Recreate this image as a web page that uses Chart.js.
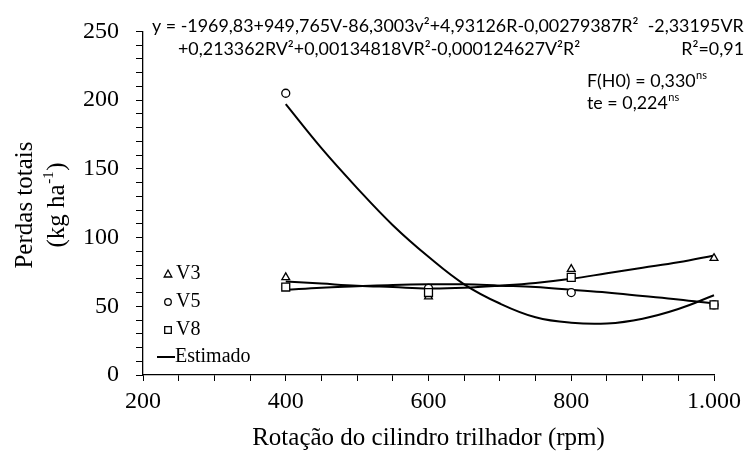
<!DOCTYPE html>
<html><head><meta charset="utf-8">
<script src="https://cdn.jsdelivr.net/npm/chart.js@4.4.0/dist/chart.umd.min.js"></script>
<style>html,body{margin:0;padding:0;background:#fff}#wrap{width:747px;height:453px;position:relative}</style>
</head><body><div id="wrap"><canvas id="c" width="747" height="453"></canvas></div>
<script>
// Observed data (kg/ha) at each rotation (rpm)
const rpm = [400, 600, 800, 1000];
const v3 = [71, 57, 77, 85];
const v5 = [205, 63, 60, 51];
const v8 = [64, 60, 71, 51];

// Estimated curves
const curveRpm = [400, 450, 500, 550, 600, 650, 700, 750, 800, 850, 900, 950, 1000];
const estV3 = [68, 66.5, 65, 64, 63, 63.5, 65, 67, 70, 74, 78, 82, 87];
const estV5 = [197, 165, 136, 109, 86, 66, 52, 42, 38, 37.5, 41, 48, 58];
const estV8 = [62, 63.5, 64.5, 65.5, 66, 66, 65, 64, 62, 60, 57.5, 55, 52];

const xLabels = {200: '200', 400: '400', 600: '600', 800: '800', 1000: '1.000'};
const yLabelValues = [0, 50, 100, 150, 200, 250];

const eqLine1 = 'y = -1969,83+949,765V-86,3003v²+4,93126R-0,00279387R²  -2,33195VR';
const eqLine2 = '+0,213362RV²+0,00134818VR²-0,000124627V²R²';
const eqR2 = 'R²=0,91';
const legendNames = ['V3', 'V5', 'V8', 'Estimado'];

const SERIF = '"Liberation Serif", "Times New Roman", serif';
const SANS = 'Lato, "Open Sans", sans-serif';

function pts(xs, ys) { return xs.map((x, i) => ({x: x, y: ys[i]})); }

function lineDs(label, ys) {
  return {type: 'line', label: label, data: pts(curveRpm, ys), borderColor: '#000', borderWidth: 2,
    pointRadius: 0, tension: 0.4, fill: false, order: 2, clip: false};
}
function markDs(label, ys, style, r) {
  return {type: 'scatter', label: label, data: pts(rpm, ys), pointStyle: style, pointRadius: r,
    borderColor: '#000', backgroundColor: '#fff', borderWidth: 1.3, order: 1, clip: false};
}

function drawSup(ctx, x, y, base, sup, size, family) {
  ctx.font = size + 'px ' + family;
  ctx.textBaseline = 'middle';
  ctx.textAlign = 'left';
  ctx.fillText(base, x, y);
  const w = ctx.measureText(base).width;
  ctx.font = Math.round(size * 0.62) + 'px ' + family;
  ctx.fillText(sup, x + w + 0.5, y - size * 0.3);
}

const annot = {
  id: 'annot',
  afterDraw(chart) {
    const ctx = chart.ctx;
    ctx.save();
    ctx.fillStyle = '#000';
    // equation
    ctx.font = '16px ' + SANS;
    const w1 = ctx.measureText(eqLine1).width;
    const eqSize = 16 * (744 - 152) / w1;
    ctx.font = eqSize.toFixed(2) + 'px ' + SANS;
    ctx.textBaseline = 'middle';
    ctx.textAlign = 'left';
    ctx.fillText(eqLine1, 152, 26);
    ctx.fillText(eqLine2, 178, 49);
    ctx.textAlign = 'right';
    ctx.fillText(eqR2, 744, 49);
    drawSup(ctx, 587, 81, 'F(H0) = 0,330', 'ns', eqSize, SANS);
    drawSup(ctx, 587, 103, 'te = 0,224', 'ns', eqSize, SANS);

    // legend
    const lx = 168, ly = [274, 302, 330];
    ctx.strokeStyle = '#000';
    ctx.lineWidth = 1.3;
    ctx.fillStyle = '#fff';
    ctx.beginPath();
    ctx.moveTo(lx, ly[0] - 4); ctx.lineTo(lx + 3.8, ly[0] + 3); ctx.lineTo(lx - 3.8, ly[0] + 3); ctx.closePath();
    ctx.fill(); ctx.stroke();
    ctx.beginPath(); ctx.arc(lx, ly[1], 3.3, 0, Math.PI * 2); ctx.fill(); ctx.stroke();
    ctx.beginPath(); ctx.rect(lx - 3.3, ly[2] - 3.3, 6.6, 6.6); ctx.fill(); ctx.stroke();
    ctx.lineWidth = 2;
    ctx.beginPath(); ctx.moveTo(157, 357); ctx.lineTo(175, 357); ctx.stroke();
    ctx.fillStyle = '#000';
    ctx.font = '20px ' + SERIF;
    ctx.textAlign = 'left';
    ctx.textBaseline = 'middle';
    ctx.fillText(legendNames[0], 176, ly[0]);
    ctx.fillText(legendNames[1], 176, ly[1]);
    ctx.fillText(legendNames[2], 176, ly[2]);
    ctx.fillText(legendNames[3], 175, 357);

    // y title
    ctx.save();
    ctx.translate(25, 205);
    ctx.rotate(-Math.PI / 2);
    ctx.font = '25px ' + SERIF;
    ctx.textAlign = 'center';
    ctx.textBaseline = 'middle';
    ctx.fillText('Perdas totais', 0, 0);
    ctx.restore();
    ctx.save();
    ctx.translate(57, 205);
    ctx.rotate(-Math.PI / 2);
    ctx.font = '25px ' + SERIF;
    const a = '(kg ha', s = '-1', b = ')';
    const wa = ctx.measureText(a).width, wb = ctx.measureText(b).width;
    ctx.font = '15px ' + SERIF;
    const ws = ctx.measureText(s).width;
    const total = wa + ws + wb + 1;
    let x0 = -total / 2;
    ctx.textAlign = 'left';
    ctx.textBaseline = 'middle';
    ctx.font = '25px ' + SERIF;
    ctx.fillText(a, x0, 0);
    ctx.font = '15px ' + SERIF;
    ctx.fillText(s, x0 + wa + 0.5, -8);
    ctx.font = '25px ' + SERIF;
    ctx.fillText(b, x0 + wa + ws + 1, 0);
    ctx.restore();
    ctx.restore();
  }
};

new Chart(document.getElementById('c').getContext('2d'), {
  data: {datasets: [
    lineDs('Estimado V3', estV3), lineDs('Estimado V5', estV5), lineDs('Estimado V8', estV8),
    markDs('V8', v8, 'rect', 5.6), markDs('V3', v3, 'triangle', 4.5), markDs('V5', v5, 'circle', 4)
  ]},
  options: {
    responsive: false, animation: false, devicePixelRatio: 1,
    layout: {padding: {left: 0, top: 24, right: 32, bottom: 0}},
    plugins: {legend: {display: false}, tooltip: {enabled: false}, title: {display: false}},
    scales: {
      x: {type: 'linear', min: 200, max: 1000,
        ticks: {stepSize: 50, autoSkip: false, maxRotation: 0, color: '#000', padding: 6,
          font: {family: SERIF, size: 24},
          callback: v => (xLabels[v] !== undefined ? xLabels[v] : '')},
        grid: {drawOnChartArea: false, drawTicks: true, tickLength: 6, color: '#000', lineWidth: 1},
        border: {color: '#000', width: 1.3},
        title: {display: true, text: 'Rotação do cilindro trilhador (rpm)', color: '#000',
          font: {family: SERIF, size: 25}, padding: 0},
        afterFit: s => { s.height = 453 - 375; }
      },
      y: {type: 'linear', min: 0, max: 250,
        ticks: {stepSize: 10, autoSkip: false, color: '#000', padding: 17,
          font: {family: SERIF, size: 24},
          callback: v => (yLabelValues.includes(v) ? String(v) : '')},
        grid: {drawOnChartArea: false, drawTicks: true, tickLength: 7, color: '#000', lineWidth: 1},
        border: {color: '#000', width: 1.3},
        afterFit: s => { s.width = 143; }
      }
    }
  },
  plugins: [annot]
});
</script>
</body></html>
